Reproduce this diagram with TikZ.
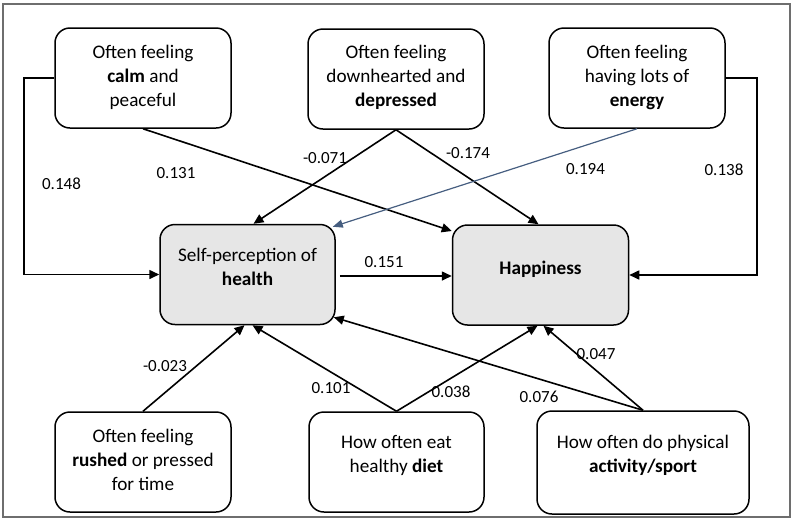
\documentclass[tikz,border=0pt]{standalone}
\usepackage{fontspec}
\setmainfont{Carlito}
\usetikzlibrary{arrows.meta,calc}
\definecolor{bluegray}{RGB}{70,94,128}
\definecolor{boxgray}{RGB}{230,230,230}
\definecolor{framegray}{RGB}{110,110,110}
\tikzset{
  box/.style={draw=black,line width=1.5pt,rounded corners=15pt,minimum width=176pt,minimum height=100pt,inner sep=0pt},
  mainbox/.style={box,fill=boxgray},
  txt/.style={align=center,inner sep=0pt,font=\fontsize{19.2}{24}\selectfont},
  lab/.style={inner sep=0pt,font=\fontsize{17}{20}\selectfont},
  arr/.style={line width=1.6pt,-{Triangle[length=10pt,width=9pt]}},
  barr/.style={line width=1.2pt,draw=bluegray,-{Triangle[length=10pt,width=8pt]},bluegray},
}
\begin{document}
\begin{tikzpicture}[x=1pt,y=-1pt]
\useasboundingbox (0,0) rectangle (795,523);
\draw[framegray,line width=1.5pt] (3,4) rectangle (790,517);
% boxes
\node[box] (calm) at (143,78) {};
\node[box] (dep) at (396,79) {};
\node[box] (energy) at (637,78) {};
\node[mainbox,minimum width=175pt] (health) at (247.5,274.5) {};
\node[mainbox] (happy) at (540.5,275) {};
\node[box] (rushed) at (143,462) {};
\node[box,minimum width=175pt] (diet) at (396.5,462) {};
\node[box,minimum width=212pt,minimum height=103pt] (act) at (643,462.5) {};
% texts
\node[txt] (calmT) at (143,77) {Often feeling\\\textbf{calm} and\\peaceful};
\node[txt] (depT) at (396,77) {Often feeling\\downhearted and\\\textbf{depressed}};
\node[txt] (energyT) at (637,77) {Often feeling\\having lots of\\\textbf{energy}};
\node[txt] (healthT) at (247.5,267) {Self-perception of\\\textbf{health}};
\node[txt] (happyT) at (540.5,269) {\textbf{Happiness}};
\node[txt] (rushedT) at (143,460) {Often feeling\\\textbf{rushed} or pressed\\for time};
\node[txt] (dietT) at (396.5,455) {How often eat\\healthy \textbf{diet}};
\node[txt] (actT) at (643,455) {How often do physical\\\textbf{activity/sport}};
% connectors
\draw[arr] (calm.west) -- ++(-30.5,0) |- (health.west);
\draw[arr] (calm.south) -- ($(happy.west)+(0,-44)$);
\draw[arr] (dep.south) -- ($(health.north)+(6,0)$);
\draw[arr] (dep.south) -- ($(happy.north)+(-2,0)$);
\draw[barr] (energy.south) -- ($(health.north east)+(-3,3)$);
\draw[arr] (energy.east) -- ++(31,0) |- (happy.east);
\draw[arr,shorten <=4pt] ($(health.east)+(0,1.5)$) -- ($(happy.west)+(0,1)$);
\draw[arr] (rushed.north) -- ($(health.south)+(-3,0)$);
\draw[arr] (diet.north) -- ($(health.south)+(5,0)$);
\draw[arr] (diet.north) -- ($(happy.south)+(-3,0)$);
\draw[arr] (act.north) -- ($(happy.south)+(3,0)$);
\draw[arr] (act.north) -- ($(health.south east)+(-2,-8)$);
% labels
\node[lab] (l1) at (61.5,184) {0.148};
\node[lab] (l2) at (176,173) {0.131};
\node[lab] (l3) at (325,158) {-0.071};
\node[lab] (l4) at (468,153) {-0.174};
\node[lab] (l5) at (585.5,169) {0.194};
\node[lab] (l6) at (724,170) {0.138};
\node[lab] (l7) at (384,262) {0.151};
\node[lab] (l8) at (165,366) {-0.023};
\node[lab] (l9) at (331,388) {0.101};
\node[lab] (l10) at (451,392) {0.038};
\node[lab] (l11) at (539,397) {0.076};
\node[lab] (l12) at (596,354) {0.047};
\end{tikzpicture}
\end{document}
